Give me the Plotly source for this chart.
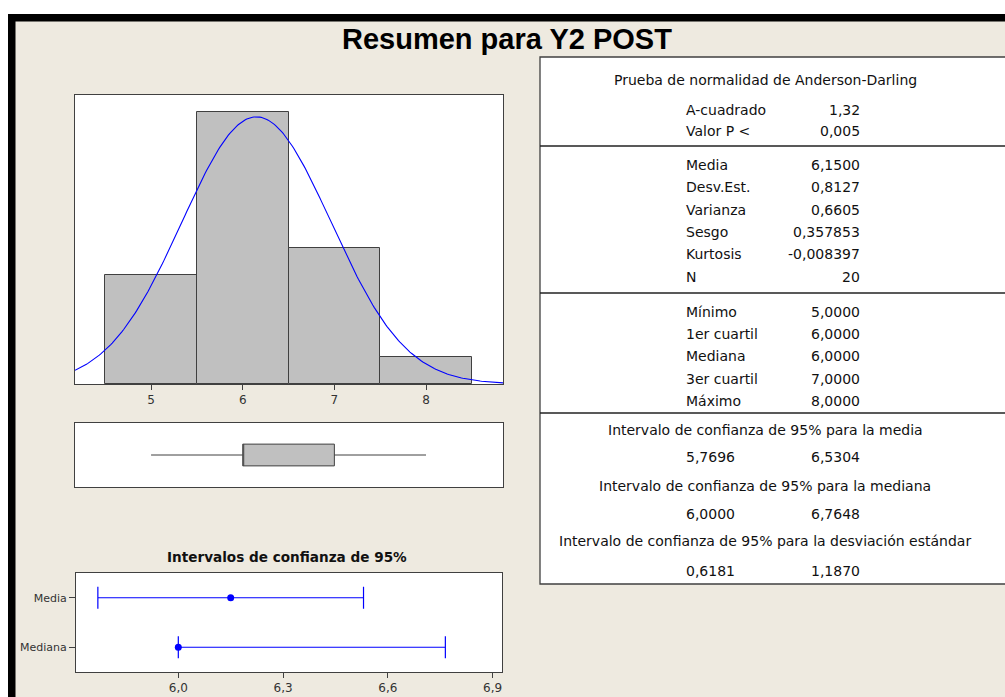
import numpy as np
import plotly.graph_objects as go

# ---- data ----
bin_centers = [5, 6, 7, 8]
bin_counts = [4, 10, 5, 1]
n_obs = 20

ad_labels = ["A-cuadrado", "Valor P <"]
ad_values = ["1,32", "0,005"]

desc_labels = ["Media", "Desv.Est.", "Varianza", "Sesgo", "Kurtosis", "N"]
mean_val = 6.15
sd_val = 0.8127
desc_values = ["6,1500", "0,8127", "0,6605", "0,357853", "-0,008397", "20"]

quart_labels = ["Mínimo", "1er cuartil", "Mediana", "3er cuartil", "Máximo"]
quart_values = [5.0, 6.0, 6.0, 7.0, 8.0]

ci_mean = [5.7696, 6.5304]
ci_median = [6.0, 6.7648]
ci_sd = [0.6181, 1.1870]
ci_titles = [
    "Intervalo de confianza de 95% para la media",
    "Intervalo de confianza de 95% para la mediana",
    "Intervalo de confianza de 95% para la desviación estándar",
]
ci_rows = ["Media", "Mediana"]

# ---- page geometry (pixels) ----
W, H = 1005, 697
BG = "#EEEAE0"
FRAME = "#404040"
BLUE = "#0000FF"
FONT = "DejaVu Sans"


def px(x):
    return x / W


def py(y):
    return 1 - y / H


def fmt(v, d=4):
    return f"{v:.{d}f}".replace(".", ",")


fig = go.Figure()

# histogram with fitted normal curve
fig.add_trace(go.Bar(
    x=bin_centers, y=bin_counts, width=1.0,
    marker=dict(color="#C0C0C0", line=dict(color=FRAME, width=1)),
    xaxis="x", yaxis="y", hoverinfo="skip",
))
xs = np.linspace(4.17, 8.84, 300)
bin_w = bin_centers[1] - bin_centers[0]
ys = n_obs * bin_w * np.exp(-0.5 * ((xs - mean_val) / sd_val) ** 2) / (sd_val * np.sqrt(2 * np.pi))
fig.add_trace(go.Scatter(
    x=xs, y=ys, mode="lines", line=dict(color=BLUE, width=1.1),
    xaxis="x", yaxis="y", hoverinfo="skip",
))

# box plot from the quartile summary
mn, q1, med, q3, mx = quart_values
fig.add_trace(go.Box(
    q1=[q1], median=[med], q3=[q3], lowerfence=[mn], upperfence=[mx],
    y=[0], orientation="h", width=0.34, whiskerwidth=0,
    fillcolor="#C0C0C0", line=dict(color=FRAME, width=1),
    boxpoints=False, xaxis="x2", yaxis="y2", hoverinfo="skip",
))

# 95% confidence intervals for mean and median
ci_pos = [1.5, 0.5]
centers = [mean_val, quart_values[2]]
lows = [ci_mean[0], ci_median[0]]
highs = [ci_mean[1], ci_median[1]]
fig.add_trace(go.Scatter(
    x=centers, y=ci_pos, mode="markers",
    marker=dict(color=BLUE, size=7),
    error_x=dict(
        type="data", symmetric=False,
        array=[h - c for h, c in zip(highs, centers)],
        arrayminus=[c - lo for c, lo in zip(centers, lows)],
        color=BLUE, thickness=1.2, width=11,
    ),
    xaxis="x3", yaxis="y3", hoverinfo="skip",
))

axis_common = dict(showgrid=False, zeroline=False, showline=True, mirror=True,
                   linecolor=FRAME, linewidth=1)
xtickfont = dict(family=FONT, size=12, color="#333333")
ytickfont = dict(family=FONT, size=11, color="#333333")

shapes = [
    # white strips and black window border
    dict(type="rect", xref="paper", yref="paper", x0=0, x1=1, y0=py(14), y1=1,
         fillcolor="white", line=dict(width=0), layer="below"),
    dict(type="rect", xref="paper", yref="paper", x0=0, x1=px(8), y0=0, y1=1,
         fillcolor="white", line=dict(width=0), layer="below"),
    dict(type="rect", xref="paper", yref="paper", x0=px(8), x1=1, y0=py(21.5), y1=py(14),
         fillcolor="black", line=dict(width=0)),
    dict(type="rect", xref="paper", yref="paper", x0=px(8), x1=px(15.5), y0=0, y1=py(14),
         fillcolor="black", line=dict(width=0)),
    # statistics table
    dict(type="rect", xref="paper", yref="paper", x0=px(540), x1=px(1012), y0=py(584), y1=py(57),
         fillcolor="white", line=dict(color=FRAME, width=1.3)),
]
for yl in [146, 293, 413]:
    shapes.append(dict(type="line", xref="paper", yref="paper", x0=px(540), x1=1,
                       y0=py(yl), y1=py(yl), line=dict(color="#222222", width=1.3)))

annotations = [
    dict(text="<b>Resumen para Y2 POST</b>", x=px(507), y=py(39), xref="paper", yref="paper",
         xanchor="center", yanchor="middle", showarrow=False,
         font=dict(family="Liberation Sans", size=29, color="black")),
    dict(text="<b>Intervalos de confianza de 95%</b>", x=px(287), y=py(557), xref="paper", yref="paper",
         xanchor="center", yanchor="middle", showarrow=False,
         font=dict(family=FONT, size=13.6, color="#111111")),
]

tfont = dict(family=FONT, size=14, color="#111111")
LX, RX, CX = 684, 862, 765


def add_center(text, y):
    annotations.append(dict(text=text, x=px(CX), y=py(y), xref="paper", yref="paper",
                            xanchor="center", yanchor="middle", showarrow=False, font=tfont))


def add_pair(left, right, y):
    annotations.append(dict(text=left, x=px(LX), y=py(y), xref="paper", yref="paper",
                            xanchor="left", yanchor="middle", showarrow=False, font=tfont))
    annotations.append(dict(text=right, x=px(RX), y=py(y), xref="paper", yref="paper",
                            xanchor="right", yanchor="middle", showarrow=False, font=tfont))


add_center("Prueba de normalidad de Anderson-Darling", 80)
for lab, val, y in zip(ad_labels, ad_values, [110, 131]):
    add_pair(lab, val, y)
for lab, val, y in zip(desc_labels, desc_values, [165, 187, 210, 232, 254, 277]):
    add_pair(lab, val, y)
for lab, val, y in zip(quart_labels, quart_values, [312, 334, 356, 379, 401]):
    add_pair(lab, fmt(val), y)
for title, (lo, hi), ty, vy in zip(ci_titles, [ci_mean, ci_median, ci_sd],
                                   [430, 486, 541], [457, 514, 571]):
    add_center(title, ty)
    add_pair(fmt(lo), fmt(hi), vy)

fig.update_layout(
    width=W, height=H, margin=dict(l=0, r=0, t=0, b=0),
    paper_bgcolor=BG, plot_bgcolor="white", showlegend=False,
    separators=",.", bargap=0,
    font=dict(family=FONT, size=11, color="#333333"),
    xaxis=dict(domain=[px(75), px(503)], anchor="y", range=[4.17, 8.84],
               tickvals=[5, 6, 7, 8], ticks="outside", ticklen=5, tickcolor=FRAME,
               tickfont=xtickfont, **axis_common),
    yaxis=dict(domain=[py(384), py(95)], anchor="x", range=[0, 10.62],
               showticklabels=False, ticks="", **axis_common),
    xaxis2=dict(domain=[px(75), px(503)], anchor="y2", range=[4.17, 8.84],
                showticklabels=False, ticks="", **axis_common),
    yaxis2=dict(domain=[py(487), py(423)], anchor="x2", range=[-0.5, 0.5],
                showticklabels=False, ticks="", **axis_common),
    xaxis3=dict(domain=[px(76), px(502)], anchor="y3", range=[5.707, 6.927],
                tickvals=[6.0, 6.3, 6.6, 6.9], tickformat=".1f", ticks="outside",
                ticklen=5, tickcolor=FRAME, tickfont=xtickfont, **axis_common),
    yaxis3=dict(domain=[py(672), py(573)], anchor="x3", range=[0, 2],
                tickvals=ci_pos, ticktext=ci_rows, ticks="outside", ticklen=6,
                tickcolor=FRAME, tickfont=ytickfont, **axis_common),
    shapes=shapes, annotations=annotations,
)

fig.write_html("out.html", config={"displayModeBar": False})
